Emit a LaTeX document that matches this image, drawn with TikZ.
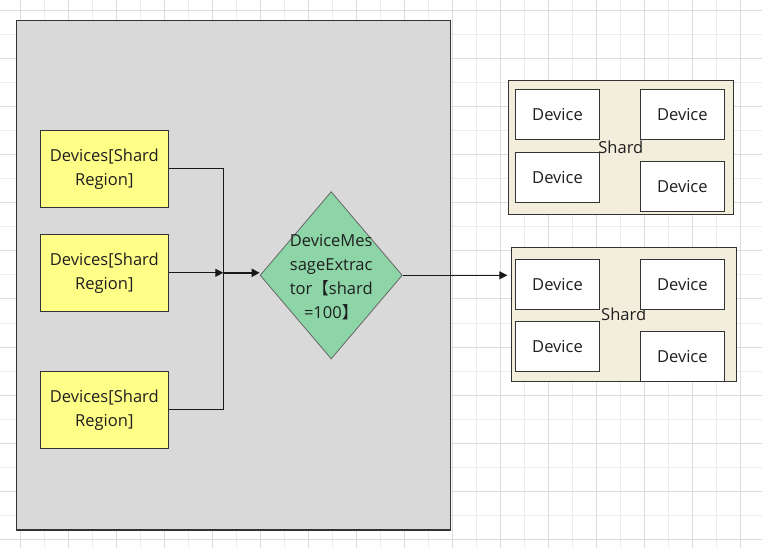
\documentclass[tikz,border=0pt]{standalone}
\usepackage{fontspec}
\setmainfont{Open Sans}
\newfontfamily\cjk{Noto Sans CJK SC}
\usetikzlibrary{shapes.geometric,arrows.meta}
\definecolor{panelgray}{HTML}{D9D9D9}
\definecolor{regionyellow}{HTML}{FFFF88}
\definecolor{extractgreen}{HTML}{8DD5A7}
\definecolor{shardbeige}{HTML}{F3EDDC}
\definecolor{edgegray}{HTML}{333333}
\definecolor{gridmajor}{HTML}{DCDCDC}
\definecolor{gridminor}{HTML}{EDEDED}
\begin{document}
\begin{tikzpicture}[x=0.75pt, y=-0.75pt,
  every node/.style={font=\fontsize{12.4}{18}\selectfont, text=black!88},
  region/.style={shape=rectangle, draw=edgegray, line width=0.9pt, fill=regionyellow, minimum width=96pt, minimum height=57.75pt, align=center, inner sep=0pt},
  extractor/.style={shape=diamond, draw=black!60, line width=0.6pt, fill=extractgreen, minimum width=106.7pt, minimum height=125.5pt, inner sep=0pt},
  shard/.style={shape=rectangle, draw=edgegray, line width=0.9pt, fill=shardbeige, minimum width=168.7pt, minimum height=100.3pt, inner sep=0pt},
  device/.style={shape=rectangle, draw=edgegray, line width=0.9pt, fill=white, minimum width=62.7pt, minimum height=37.5pt, inner sep=0pt},
  link/.style={draw=black!90, line width=0.8pt},
  tip/.style={-{Triangle[length=6pt,width=6pt]}}]
\useasboundingbox (0,0) rectangle (762,548);
\fill[white] (0,0) rectangle (762,548);
% background grid
\foreach \gx in {20.7,44.7,...,764} \draw[gridminor, line width=0.75pt] (\gx,0) -- (\gx,548);
\foreach \gy in {11,35,...,548} \draw[gridminor, line width=0.75pt] (0,\gy) -- (762,\gy);
\foreach \gx in {20.7,68.7,...,764} \draw[gridmajor, line width=0.75pt] (\gx,0) -- (\gx,548);
\foreach \gy in {11,59,...,548} \draw[gridmajor, line width=0.75pt] (0,\gy) -- (762,\gy);
% grey panel
\draw[draw=edgegray, line width=0.9pt, fill=panelgray] (16.7,20.7) rectangle (450.7,530);
\node[region] (R1) at (104.3,168.8) {Devices[Shard\\Region]};
\node[region] (R2) at (104.3,272.8) {Devices[Shard\\Region]};
\node[region] (R3) at (104.3,409.8) {Devices[Shard\\Region]};
\node[extractor, label={[align=center, yshift=-1.5pt]center:DeviceMes\\sageExtrac\\tor{\cjk 【}shard\\=100{\cjk 】}}] (E) at (331.2,275.3) {};
\coordinate (J) at (223.3,272.8);
% shards
\node[shard] (S1) at (620.8,147.5) {Shard};
\node[device] (D11) at (557.5,114.3) {Device};
\node[device] (D12) at (682.3,114.3) {Device};
\node[device] (D13) at (557.5,177.3) {Device};
\node[device] (D14) at (682.3,186.8) {Device};
\node[shard] (S2) at (623.7,314.3) {Shard};
\node[device] (D21) at (557.5,284.3) {Device};
\node[device] (D22) at (682.3,284.3) {Device};
\node[device] (D23) at (557.5,346.3) {Device};
\node[device] (D24) at (682.3,356.3) {Device};
% connectors
\path [link] (R1.east) -| (J);
\path [link] (R3.east) -| (J);
\path [link, tip] (R2.east) -- (J);
\path [link, tip, line width=1.6pt] (J) -- (J -| E.west);
\path [link, tip, shorten >=2.5pt] (E.east) -- (E.east -| S2.west);
\end{tikzpicture}
\end{document}
